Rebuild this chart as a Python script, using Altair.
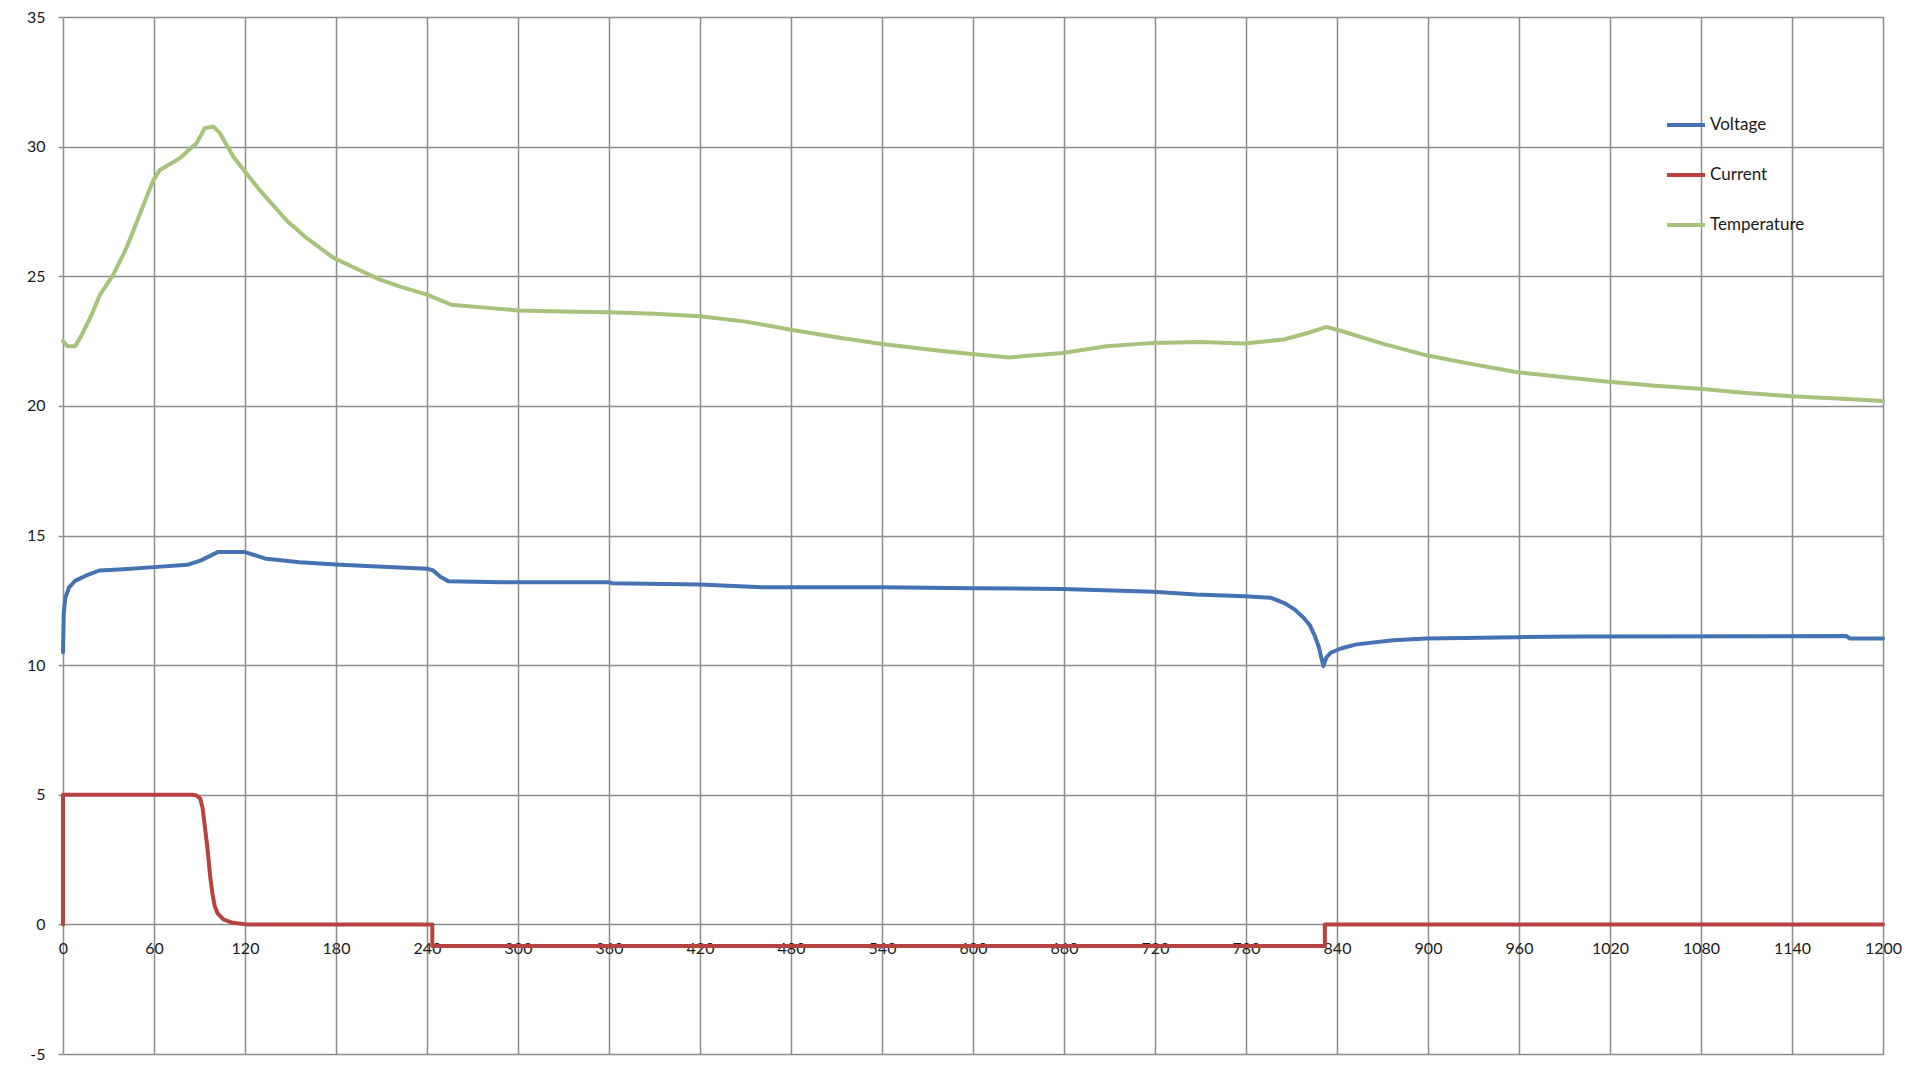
import altair as alt
import pandas as pd

# ---- data (time in s) ----
series_names = ["Voltage", "Current", "Temperature"]
series_colors = ["#4572b0", "#b8423f", "#a6c27b"]

volt_t = [0, 0.5, 1.5, 4, 8, 15, 24, 40, 60, 82, 91, 102, 120, 134, 156, 180, 200,
          240, 244, 249, 254, 289, 360, 362, 420, 461, 540, 600, 659, 719, 747, 779,
          796, 800, 806, 812, 818, 822, 825, 828, 831, 833, 836, 843, 853, 877, 899,
          959, 1000, 1176, 1178, 1200]
volt_v = [10.5, 12.0, 12.6, 13.0, 13.25, 13.45, 13.65, 13.7, 13.78, 13.87, 14.04, 14.36,
          14.36, 14.1, 13.97, 13.88, 13.82, 13.72, 13.65, 13.4, 13.24, 13.2, 13.2, 13.16,
          13.11, 13.0, 13.0, 12.97, 12.94, 12.83, 12.72, 12.66, 12.6, 12.52, 12.37, 12.15,
          11.83, 11.55, 11.18, 10.7, 9.96, 10.3, 10.48, 10.65, 10.8, 10.96, 11.03, 11.08,
          11.1, 11.12, 11.03, 11.03]

curr_t = [0, 0, 85, 88, 90.5, 92, 93.7, 95.5, 97, 98.5, 100, 102, 105.7, 112, 121,
          243.5, 243.5, 832, 832, 1200]
curr_v = [0, 5, 5, 4.97, 4.85, 4.5, 3.7, 2.8, 1.87, 1.2, 0.71, 0.42, 0.19, 0.06, 0,
          0, -0.83, -0.83, 0, 0]

temp_t = [0, 3, 8, 12, 18, 24.4, 33.2, 41.9, 50.7, 59.5, 63.9, 77, 88, 93.5, 99,
          103.5, 112.3, 121, 130, 147.6, 160, 178.4, 195, 209, 222.3, 240, 256, 280,
          300, 330, 360, 390, 420, 450, 480, 510, 540, 578, 599, 624, 659, 688,
          719, 750, 779, 805, 820, 833, 845, 870, 899, 930, 959, 990, 1019, 1050, 1079,
          1110, 1139, 1170, 1200]
temp_v = [22.5, 22.3, 22.3, 22.7, 23.4, 24.29, 25.06, 26.1, 27.4, 28.7, 29.1, 29.55,
          30.13, 30.71, 30.78, 30.52, 29.61, 28.96, 28.3, 27.14, 26.5, 25.71, 25.25, 24.87,
          24.6, 24.29, 23.9, 23.78, 23.68, 23.64, 23.61, 23.55, 23.46, 23.25, 22.94, 22.65,
          22.39, 22.13, 22.0, 21.87, 22.04, 22.3, 22.43, 22.46, 22.41, 22.56, 22.8,
          23.05, 22.85, 22.4, 21.95, 21.6, 21.3, 21.1, 20.93, 20.78, 20.66, 20.5, 20.37,
          20.28, 20.19]

x_ticks = list(range(0, 1201, 60))
y_ticks = list(range(-5, 36, 5))

rows = []
for name, ts, vs in [("Voltage", volt_t, volt_v),
                     ("Current", curr_t, curr_v),
                     ("Temperature", temp_t, temp_v)]:
    for i, (t, v) in enumerate(zip(ts, vs)):
        rows.append({"series": name, "t": t, "v": v, "i": i})
df = pd.DataFrame(rows)

GRID = "#8c8c8c"
FONT = "Lato"

chart = alt.Chart(df).mark_line(strokeJoin="round", strokeCap="round").encode(
    x=alt.X("t:Q",
            scale=alt.Scale(domain=[0, 1200], nice=False, zero=False),
            axis=alt.Axis(values=x_ticks, title=None, grid=True, gridColor=GRID,
                          gridWidth=1.5, gridOpacity=1, domain=False, ticks=False,
                          offset=-131, labelPadding=17, labelFont=FONT,
                          labelFontSize=16, labelColor="#1a1a1a",
                          labelExpr="'' + datum.value",
                          labelOverlap=False, labelFlush=False)),
    y=alt.Y("v:Q",
            scale=alt.Scale(domain=[-5, 35], nice=False, zero=False),
            axis=alt.Axis(values=y_ticks, title=None, grid=True, gridColor=GRID,
                          gridWidth=1.5, gridOpacity=1, domain=False, ticks=True,
                          tickSize=5, tickColor=GRID, tickWidth=1.5, labelPadding=13,
                          labelFont=FONT, labelFontSize=16, labelColor="#1a1a1a",
                          labelExpr="'' + datum.value",
                          labelOverlap=False, labelFlush=False)),
    color=alt.Color("series:N",
                    scale=alt.Scale(domain=series_names, range=series_colors),
                    sort=series_names,
                    legend=alt.Legend(title=None, orient="none", legendX=1602,
                                      legendY=87, symbolType="stroke",
                                      symbolSize=1444, symbolStrokeWidth=4,
                                      labelFont=FONT, labelFontSize=17,
                                      labelColor="#1a1a1a", labelOffset=3,
                                      rowPadding=21, padding=0)),
    strokeWidth=alt.StrokeWidth("series:N",
                                scale=alt.Scale(domain=series_names, range=[4, 4, 5]),
                                legend=None),
    order=alt.Order("i:Q"),
).properties(
    width=1820,
    height=1037,
    autosize=alt.AutoSizeParams(type="none"),
    padding={"left": 55, "top": 9, "right": 20, "bottom": 9},
    background="white",
).configure_view(stroke=None)

chart.save("out.html", embed_options={"renderer": "svg", "actions": False})
